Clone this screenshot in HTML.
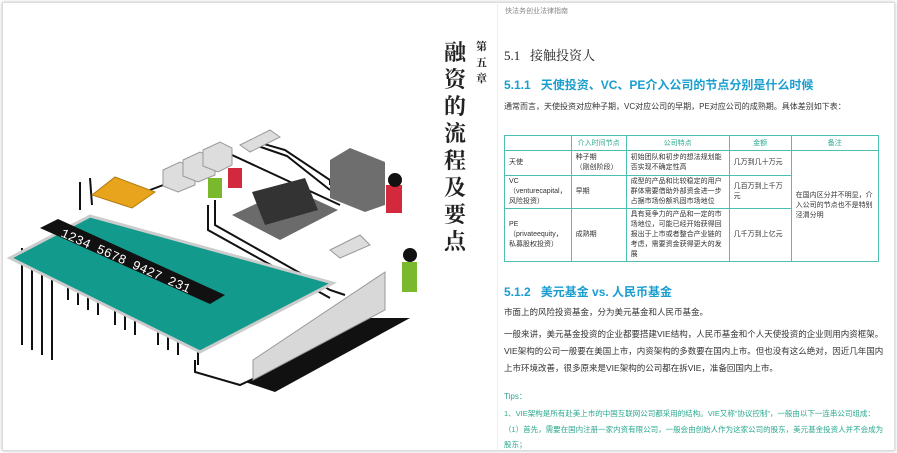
<!DOCTYPE html>
<html><head><meta charset="utf-8"><style>
*{margin:0;padding:0;box-sizing:border-box}
body{width:897px;height:453px;background:#fff;position:relative;overflow:hidden;font-family:"Liberation Sans","Noto Sans CJK SC",sans-serif;color:#222}
.a{position:absolute;white-space:nowrap}
.frame{position:absolute;left:2px;top:2px;width:893px;height:449px;border:1px solid #ddd;box-shadow:0 0 3px #bbb}
.pg{position:absolute;left:497px;top:2px;width:398px;height:449px;border-left:1px solid #eee}
table{position:absolute;left:504px;top:135px;border-collapse:collapse;font-size:7px;color:#333}
td{border:1px solid #4cbfb0;padding:1px 4px;vertical-align:middle;line-height:10px}
th{border:1px solid #4cbfb0;color:#2aa88e;font-weight:normal;height:15px;font-size:7px}
.g{color:#2aa88e;font-size:7.5px}
.p{font-size:8.5px;color:#333}
.h2{font-size:12px;font-weight:bold;color:#1a9ed0}
</style></head><body>
<div class="frame"></div>
<svg class="a" style="left:0;top:0" width="420" height="453" viewBox="0 0 420 453">
<g fill="none" stroke="#111" stroke-width="2">
<path d="M80 182 L80 210 M90 178 L92 205"/>
<path d="M150 190 L190 175"/>
<path d="M232 155 L340 205"/>
<path d="M250 140 L285 150 L330 180 L330 185"/>
<path d="M255 145 L287 156 L330 190"/>
<path d="M215 200 L215 225 L330 290 L345 295"/>
<path d="M208 205 L208 230 L330 298"/>
<path d="M195 360 L195 372 L240 385 L255 378"/>
</g>
<g stroke="#111" stroke-width="2">
<path d="M22 345 V248 M32 350 V250 M42 355 V252 M52 360 V255 M68 300 V268 M78 305 V272 M88 310 V276 M98 315 V280 M115 325 V290 M125 330 V294 M135 335 V298 M158 345 V310 M168 350 V314 M178 355 V318 M198 365 V325"/>
</g>
<polygon points="10,258 90,216 333,283 200,352" fill="#129a8c" stroke="#ccc" stroke-width="3"/>
<polygon points="40,228 58,219 225,295 210,304" fill="#111"/>
<text x="60" y="236" fill="#fff" font-size="13" font-family="Liberation Mono" transform="rotate(24 60 236)">1234 5678 9427 231</text>
<polygon points="92,195 115,177 155,192 132,208" fill="#e8a41c" stroke="#b07a10"/>
<g fill="#ddd" stroke="#999">
<polygon points="163,170 180,162 195,168 195,185 178,192 163,186"/>
<polygon points="183,160 200,152 215,158 215,175 198,182 183,176"/>
<polygon points="203,150 220,142 232,148 232,165 218,172 203,166"/>
</g>
<polygon points="240,145 270,130 280,137 250,152" fill="#ddd" stroke="#999"/>
<rect x="208" y="178" width="14" height="20" fill="#7ab82e"/>
<rect x="228" y="168" width="14" height="20" fill="#d22a3c"/>
<polygon points="232,215 290,188 338,210 280,240" fill="#6b6b6b"/>
<polygon points="252,192 305,178 318,210 265,225" fill="#333"/>
<polygon points="330,160 350,148 385,162 385,205 365,212 330,198" fill="#6e6e6e"/>
<polygon points="330,250 360,235 370,245 340,258" fill="#ddd" stroke="#999"/>
<polygon points="245,382 370,318 410,318 275,392" fill="#111"/>
<polygon points="253,360 253,380 385,310 385,272" fill="#d8d8d8" stroke="#999"/>
<rect x="386" y="185" width="16" height="28" fill="#d22a3c"/><circle cx="395" cy="180" r="7" fill="#111"/>
<rect x="402" y="262" width="15" height="30" fill="#7ab82e"/><circle cx="410" cy="255" r="7" fill="#111"/>
</svg>
<div class="a" style="left:444px;top:38px;width:24px;font-size:22px;line-height:27px;font-family:'Noto Serif CJK SC',serif;font-weight:bold;white-space:normal">融资的流程及要点</div>
<div class="a" style="left:476px;top:38px;width:14px;font-size:11px;line-height:16px;font-family:'Noto Serif CJK SC',serif;font-weight:bold;white-space:normal">第五章</div>
<div class="pg"></div>
<div class="a" style="left:505px;top:6px;font-size:7px;color:#888">快法务创业法律指南</div>
<div class="a" style="left:504px;top:45px;font-size:13px;font-family:'Liberation Serif','Noto Serif CJK SC',serif">5.1&nbsp;&nbsp;&nbsp;接触投资人</div>
<div class="a h2" style="left:504px;top:76px">5.1.1&nbsp;&nbsp;&nbsp;天使投资、VC、PE介入公司的节点分别是什么时候</div>
<div class="a p" style="left:504px;top:101px;font-size:8px">通常而言，天使投资对应种子期，VC对应公司的早期，PE对应公司的成熟期。具体差别如下表：</div>
<table>
<tr><th style="width:63px"></th><th style="width:55px">介入时间节点</th><th style="width:103px">公司特点</th><th style="width:62px">金额</th><th style="width:87px">备注</th></tr>
<tr style="height:25px"><td>天使</td><td>种子期<br>（刚创阶段）</td><td>初始团队和初步的想法规划能否实现不确定性高</td><td>几万到几十万元</td><td rowspan="3">在国内区分并不明显，介入公司的节点也不是特别泾渭分明</td></tr>
<tr style="height:33px"><td>VC<br>（venturecapital，风险投资）</td><td>早期</td><td>成型的产品和比较稳定的用户群体需要借助外部资金进一步占据市场份额巩固市场地位</td><td>几百万到上千万元</td></tr>
<tr style="height:47px"><td>PE<br>（privateequity，私募股权投资）</td><td>成熟期</td><td>具有竞争力的产品和一定的市场地位，可能已经开始获得回报出于上市或者整合产业链的考虑，需要资金获得更大的发展</td><td>几千万到上亿元</td></tr>
</table>
<div class="a h2" style="left:504px;top:283px">5.1.2&nbsp;&nbsp;&nbsp;美元基金 vs. 人民币基金</div>
<div class="a p" style="left:504px;top:306px">市面上的风险投资基金，分为美元基金和人民币基金。</div>
<div class="a p" style="left:504px;top:328px">一般来讲，美元基金投资的企业都要搭建VIE结构，人民币基金和个人天使投资的企业则用内资框架。</div>
<div class="a p" style="left:504px;top:345px">VIE架构的公司一般要在美国上市，内资架构的多数要在国内上市。但也没有这么绝对，因近几年国内</div>
<div class="a p" style="left:504px;top:362px">上市环境改善，很多原来是VIE架构的公司都在拆VIE，准备回国内上市。</div>
<div class="a g" style="left:504px;top:391px;font-size:8px">Tips：</div>
<div class="a g" style="left:504px;top:408px">1、VIE架构是所有赴美上市的中国互联网公司都采用的结构。VIE又称“协议控制”，一般由以下一连串公司组成：</div>
<div class="a g" style="left:504px;top:424px">（1）首先，需要在国内注册一家内资有限公司，一般会由创始人作为这家公司的股东，美元基金投资人并不会成为</div>
<div class="a g" style="left:504px;top:439px">股东；</div>
</body></html>
